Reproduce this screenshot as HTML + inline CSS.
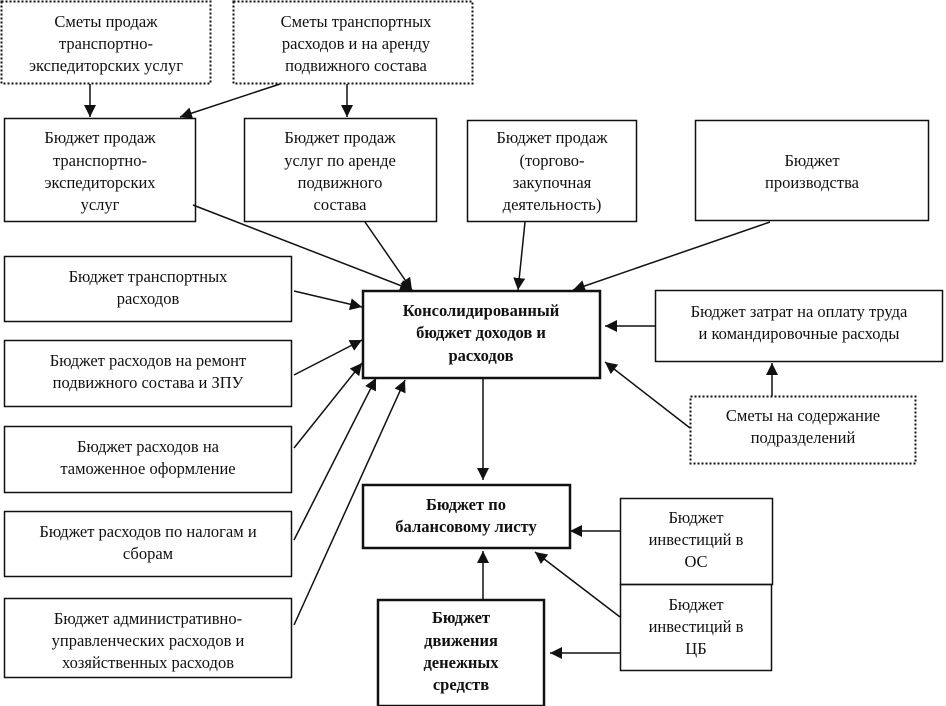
<!DOCTYPE html>
<html><head><meta charset="utf-8"><style>
body{margin:0;background:#fff}
svg{display:block}
text{font-family:"Liberation Serif","DejaVu Serif",serif;font-size:16.5px;fill:#111;text-anchor:middle}
.b{font-weight:bold}
</style></head><body>
<svg width="946" height="706" viewBox="0 0 946 706">
<defs><marker id="a" viewBox="0 0 10 10" refX="10" refY="5" markerWidth="9" markerHeight="9" markerUnits="userSpaceOnUse" orient="auto"><path d="M0,0L10,5L0,10z" fill="#111"/></marker>
<marker id="A" viewBox="0 0 10 10" refX="10" refY="5" markerWidth="12" markerHeight="12" markerUnits="userSpaceOnUse" orient="auto"><path d="M0,0L10,5L0,10z" fill="#111"/></marker></defs>
<g fill="none" stroke="#111">
<rect x="1.5" y="1.5" width="209" height="82" stroke-width="2" stroke-dasharray="2,2"/>
<rect x="233.5" y="1.5" width="239" height="82" stroke-width="2" stroke-dasharray="2,2"/>
<rect x="690.5" y="396.5" width="225" height="67" stroke-width="2" stroke-dasharray="2,2"/>
<g stroke-width="1.5">
<rect x="4.5" y="118.5" width="191" height="103"/>
<rect x="244.5" y="118.5" width="192" height="103"/>
<rect x="467.5" y="120.5" width="169" height="101"/>
<rect x="695.5" y="120.5" width="233" height="100"/>
<rect x="4.5" y="256.5" width="287" height="65"/>
<rect x="4.5" y="340.5" width="287" height="66"/>
<rect x="4.5" y="426.5" width="287" height="66"/>
<rect x="4.5" y="511.5" width="287" height="65"/>
<rect x="4.5" y="598.5" width="287" height="79"/>
<rect x="655.5" y="290.5" width="287" height="71"/>
<rect x="620.5" y="498.5" width="152" height="86"/>
<rect x="620.5" y="584.5" width="151" height="86"/>
</g>
<g stroke-width="2.5">
<rect x="363" y="291" width="237" height="87"/>
<rect x="363" y="485" width="207" height="63"/>
<rect x="378" y="600" width="166" height="106"/>
</g>
<g stroke-width="1.5" marker-end="url(#A)">
<line x1="90" y1="84" x2="90" y2="117"/>
<line x1="280" y1="84" x2="180" y2="117"/>
<line x1="347" y1="84" x2="347" y2="117"/>
<line x1="193" y1="205" x2="412" y2="290"/>
<line x1="365" y1="222" x2="412" y2="290"/>
<line x1="525" y1="222" x2="518" y2="290"/>
<line x1="770" y1="222" x2="573" y2="290"/>
<line x1="294" y1="291" x2="362" y2="307"/>
<line x1="294" y1="375" x2="362" y2="340"/>
<line x1="294" y1="448" x2="362" y2="363"/>
<line x1="294" y1="540" x2="376" y2="378"/>
<line x1="294" y1="625" x2="405" y2="380"/>
<line x1="655" y1="326" x2="605" y2="326"/>
<line x1="690" y1="428" x2="605" y2="362"/>
<line x1="772" y1="396" x2="772" y2="363"/>
<line x1="483" y1="378" x2="483" y2="480"/>
<line x1="483" y1="600" x2="483" y2="551"/>
<line x1="620" y1="531" x2="570" y2="531"/>
<line x1="620" y1="617" x2="535" y2="552"/>
<line x1="620" y1="653" x2="550" y2="653"/>
</g>
</g>
<text x="106" y="27">Сметы продаж</text><text x="106" y="49">транспортно-</text><text x="106" y="71">экспедиторских услуг</text>
<text x="356" y="27">Сметы транспортных</text><text x="356" y="49">расходов и на аренду</text><text x="356" y="71">подвижного состава</text>
<text x="100" y="143">Бюджет продаж</text><text x="100" y="166">транспортно-</text><text x="100" y="188">экспедиторских</text><text x="100" y="210">услуг</text>
<text x="340" y="143">Бюджет продаж</text><text x="340" y="166">услуг по аренде</text><text x="340" y="188">подвижного</text><text x="340" y="210">состава</text>
<text x="552" y="143">Бюджет продаж</text><text x="552" y="166">(торгово-</text><text x="552" y="188">закупочная</text><text x="552" y="210">деятельность)</text>
<text x="812" y="166">Бюджет</text><text x="812" y="188">производства</text>
<text x="148" y="282">Бюджет транспортных</text><text x="148" y="304">расходов</text>
<text x="148" y="366">Бюджет расходов на ремонт</text><text x="148" y="388">подвижного состава и ЗПУ</text>
<text x="148" y="452">Бюджет расходов на</text><text x="148" y="474">таможенное оформление</text>
<text x="148" y="537">Бюджет расходов по налогам и</text><text x="148" y="559">сборам</text>
<text x="148" y="624">Бюджет административно-</text><text x="148" y="646">управленческих расходов и</text><text x="148" y="668">хозяйственных расходов</text>
<text class="b" x="481" y="316">Консолидированный</text><text class="b" x="481" y="338">бюджет доходов и</text><text class="b" x="481" y="361">расходов</text>
<text x="799" y="317">Бюджет затрат на оплату труда</text><text x="799" y="339">и командировочные расходы</text>
<text x="803" y="421">Сметы на содержание</text><text x="803" y="443">подразделений</text>
<text class="b" x="466" y="510">Бюджет по</text><text class="b" x="466" y="532">балансовому листу</text>
<text x="696" y="523">Бюджет</text><text x="696" y="545">инвестиций в</text><text x="696" y="567">ОС</text>
<text x="696" y="610">Бюджет</text><text x="696" y="632">инвестиций в</text><text x="696" y="654">ЦБ</text>
<text class="b" x="461" y="623">Бюджет</text><text class="b" x="461" y="646">движения</text><text class="b" x="461" y="668">денежных</text><text class="b" x="461" y="690">средств</text>
</svg>
</body></html>
